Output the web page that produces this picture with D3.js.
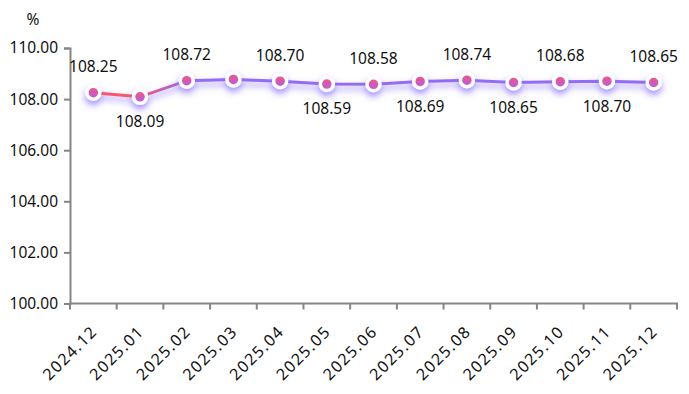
<!DOCTYPE html>
<html>
<head>
<meta charset="utf-8">
<script src="https://cdn.jsdelivr.net/npm/d3@7"></script>
<style>
    body { margin: 0; background: #fff; }
    text { font-family: "Noto Sans", sans-serif; }
</style>
</head>
<body>
<svg id="chart" width="689" height="394"></svg>
<script>
// Data.
const months = ['2024.12', '2025.01', '2025.02', '2025.03', '2025.04', '2025.05', '2025.06',
    '2025.07', '2025.08', '2025.09', '2025.10', '2025.11', '2025.12'];
const values = [108.25, 108.09, 108.72, 108.77, 108.70, 108.59, 108.58,
    108.69, 108.74, 108.65, 108.68, 108.70, 108.65];
// Where each value label sits; null = label hidden (overlap).
const labelSide = ['top', 'bottom', 'top', null, 'top', 'bottom', 'top',
    'bottom', 'top', 'bottom', 'top', 'bottom', 'top'];
const yTicks = [100, 102, 104, 106, 108, 110];

// Constants.
const LEFT = 70;
const RIGHT = 677;
const TOP = 48;
const BOTTOM = 303.5;
const AXIS_COLOR = '#858585';
const FONT_SIZE = 15.5;

const svg = d3.select('#chart');

const x = d3.scaleBand()
    .domain(months)
    .range([LEFT, RIGHT]);
const y = d3.scaleLinear()
    .domain([100, 110])
    .range([BOTTOM, TOP]);
const cx = d => x(d) + x.bandwidth() / 2;

// Gradients and shadow.
const defs = svg.append('defs');
const lineGrad = defs.append('linearGradient')
    .attr('id', 'line-grad')
    .attr('gradientUnits', 'userSpaceOnUse')
    .attr('x1', cx(months[1])).attr('y1', 0)
    .attr('x2', cx(months[2])).attr('y2', 0);
lineGrad.append('stop').attr('offset', 0).attr('stop-color', '#f5586c');
lineGrad.append('stop').attr('offset', 1).attr('stop-color', '#946cf4');

const dotGrad = defs.append('linearGradient')
    .attr('id', 'dot-grad')
    .attr('x1', 0).attr('y1', 0)
    .attr('x2', 0).attr('y2', 1);
dotGrad.append('stop').attr('offset', 0).attr('stop-color', '#f4567c');
dotGrad.append('stop').attr('offset', 1).attr('stop-color', '#b35ee4');

defs.append('filter')
    .attr('id', 'glow')
    .attr('x', '-20%').attr('y', '-60%')
    .attr('width', '140%').attr('height', '220%')
    .append('feDropShadow')
    .attr('dx', 0).attr('dy', 4)
    .attr('stdDeviation', 3.5)
    .attr('flood-color', '#7658ff')
    .attr('flood-opacity', 0.7);

// Y axis.
const yAxis = svg.append('g')
    .attr('transform', `translate(${LEFT},0)`)
    .call(d3.axisLeft(y).tickValues(yTicks).tickFormat(d3.format('.2f')).tickSize(6).tickPadding(6));
yAxis.select('.domain').attr('stroke', AXIS_COLOR).attr('stroke-width', 2);
yAxis.selectAll('.tick line').attr('stroke', AXIS_COLOR).attr('stroke-width', 2);
yAxis.selectAll('.tick text')
    .attr('font-size', FONT_SIZE)
    .attr('font-family', '"Noto Sans", sans-serif')
    .attr('fill', '#111');

// X axis: ticks on band boundaries.
const xAxis = svg.append('g');
xAxis.append('line')
    .attr('x1', LEFT - 1).attr('x2', RIGHT + 1)
    .attr('y1', BOTTOM).attr('y2', BOTTOM)
    .attr('stroke', AXIS_COLOR).attr('stroke-width', 2);
xAxis.selectAll('.xtick')
    .data(months.concat(['end']))
    .join('line')
    .attr('class', 'xtick')
    .attr('x1', d => d === 'end' ? RIGHT : x(d))
    .attr('x2', d => d === 'end' ? RIGHT : x(d))
    .attr('y1', BOTTOM).attr('y2', BOTTOM + 6)
    .attr('stroke', AXIS_COLOR).attr('stroke-width', 2);
xAxis.selectAll('.xlabel')
    .data(months)
    .join('text')
    .attr('class', 'xlabel')
    .attr('transform', d => `translate(${cx(d) + 1},${BOTTOM + 25}) rotate(-45)`)
    .attr('text-anchor', 'end')
    .attr('dy', '0.35em')
    .attr('font-size', 16)
    .attr('letter-spacing', 1.4)
    .attr('fill', '#111')
    .text(d => d);

// Unit.
svg.append('text')
    .attr('x', 33).attr('y', 20)
    .attr('dy', '0.35em')
    .attr('text-anchor', 'middle')
    .attr('font-size', FONT_SIZE)
    .attr('fill', '#111')
    .text('%');

// Line and markers.
const series = months.map((m, i) => ({m, v: values[i], side: labelSide[i]}));
const plot = svg.append('g').attr('filter', 'url(#glow)');
plot.append('path')
    .datum(series)
    .attr('fill', 'none')
    .attr('stroke', 'url(#line-grad)')
    .attr('stroke-width', 3)
    .attr('d', d3.line().x(d => cx(d.m)).y(d => y(d.v)));
plot.selectAll('circle')
    .data(series)
    .join('circle')
    .attr('cx', d => cx(d.m))
    .attr('cy', d => y(d.v))
    .attr('r', 6.5)
    .attr('fill', 'url(#dot-grad)')
    .attr('stroke', '#fff')
    .attr('stroke-width', 3.5);

// Value labels.
svg.selectAll('.vlabel')
    .data(series.filter(d => d.side))
    .join('text')
    .attr('class', 'vlabel')
    .attr('x', d => cx(d.m))
    .attr('y', d => y(d.v) + (d.side === 'top' ? -26 : 25))
    .attr('dy', '0.35em')
    .attr('text-anchor', 'middle')
    .attr('font-size', FONT_SIZE)
    .attr('fill', '#111')
    .text(d => d3.format('.2f')(d.v));
</script>
</body>
</html>
